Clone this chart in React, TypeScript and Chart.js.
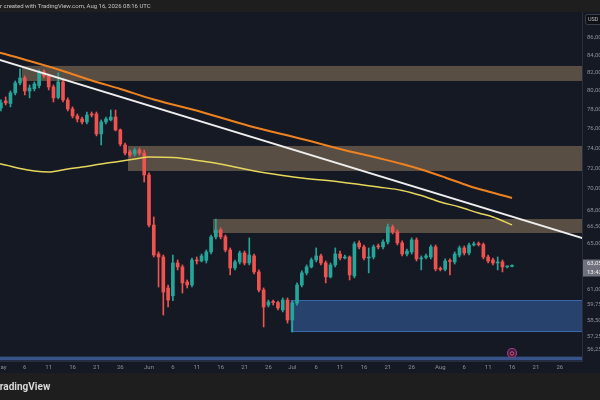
import React, { useEffect, useRef } from "react";
import { Chart, registerables } from "chart.js";

Chart.register(...registerables);

// daily candles, day 0 = May 1
const opens = [
  78.17, 78.92, 78.65, 79.79, 80.88, 81.43, 80.0, 80.25, 80.6, 82.11,
  81.66, 80.44, 79.3, 80.99, 79.03, 78.06, 77.32, 77.0, 76.69, 77.53,
  77.53, 75.45, 76.69, 76.9, 77.21, 75.86, 74.32, 73.61, 73.41, 73.81,
  73.51, 71.34, 66.63, 64.05, 63.79, 61.15, 60.5, 63.27, 62.93, 61.65,
  61.4, 63.53, 63.44, 63.5, 64.23, 65.56, 66.18, 65.56, 64.4, 62.84,
  63.36, 64.14, 63.27, 63.88, 62.5, 60.98, 59.74, 59.99, 59.95, 59.34,
  60.15, 58.53, 59.9, 61.4, 62.42, 62.93, 63.53, 63.88, 63.27, 62.08,
  63.1, 64.05, 63.7, 63.79, 62.16, 65.02, 64.67, 63.7, 63.79, 64.75,
  64.67, 65.11, 66.45, 66.0, 65.02, 64.05, 64.23, 65.29, 63.62, 63.75,
  63.79, 64.67, 62.76, 62.72, 63.44, 63.36, 63.96, 64.58, 64.14, 64.84,
  64.93, 64.88, 63.79, 63.53, 63.27, 63.36, 62.93, 62.98,
];
const highs = [
  79.03, 79.35, 80.0, 81.1, 82.44, 81.66, 80.66, 80.99, 82.33, 82.33,
  81.88, 80.66, 82.0, 81.21, 79.25, 78.28, 77.53, 77.21, 77.74, 77.74,
  77.74, 76.9, 77.21, 77.95, 77.95, 75.96, 74.52, 73.81, 74.01, 74.01,
  73.81, 71.54, 67.37, 64.23, 63.96, 61.4, 63.96, 63.53, 63.1, 61.82,
  63.7, 63.79, 64.05, 64.4, 65.73, 67.18, 66.36, 65.73, 64.58, 63.53,
  64.31, 64.31, 65.47, 64.05, 62.67, 61.15, 60.15, 60.15, 60.07, 60.32,
  60.32, 60.07, 61.57, 62.59, 63.1, 63.7, 64.58, 64.05, 63.44, 63.27,
  64.58, 64.31, 63.96, 63.88, 65.11, 65.2, 64.84, 64.58, 64.84, 64.93,
  65.29, 66.72, 66.63, 66.18, 65.2, 64.49, 65.47, 65.47, 63.88, 64.05,
  64.84, 64.84, 62.93, 63.62, 63.62, 64.23, 64.75, 64.75, 65.02, 65.11,
  65.11, 65.02, 63.96, 63.7, 63.79, 63.53, 63.01, 63.1,
];
const lows = [
  77.85, 78.49, 78.28, 79.57, 80.66, 79.57, 79.25, 80.0, 80.33, 81.43,
  80.11, 78.81, 79.14, 78.81, 77.85, 77.11, 76.69, 76.48, 76.48, 77.21,
  75.24, 74.32, 76.48, 76.8, 75.76, 74.22, 73.31, 73.11, 73.21, 73.31,
  70.66, 66.45, 63.79, 61.23, 58.93, 59.58, 60.1, 62.67, 60.73, 61.15,
  61.23, 63.18, 63.36, 63.27, 64.05, 65.38, 65.38, 64.23, 62.25, 62.67,
  63.18, 63.1, 63.1, 62.33, 60.81, 57.98, 59.58, 59.74, 59.34, 59.18,
  58.29, 57.58, 59.74, 61.23, 62.25, 62.84, 63.36, 63.1, 61.57, 61.99,
  62.93, 63.53, 63.62, 61.82, 61.99, 64.49, 63.53, 62.42, 63.62, 64.49,
  64.49, 64.93, 65.82, 64.84, 63.88, 63.88, 64.05, 63.44, 62.67, 63.62,
  63.62, 62.59, 62.59, 62.59, 62.25, 63.18, 63.79, 63.96, 63.96, 64.75,
  64.75, 63.62, 63.27, 63.1, 62.67, 62.5, 62.84, 62.93,
];
const closes = [
  78.71, 78.71, 79.79, 80.88, 81.43, 80.0, 80.33, 80.77, 82.11, 81.66,
  80.44, 79.25, 80.99, 79.03, 78.06, 77.32, 77.0, 76.69, 77.42, 77.42,
  75.45, 76.69, 77.0, 77.21, 75.86, 74.42, 73.51, 73.31, 73.81, 73.51,
  71.34, 66.63, 63.96, 63.79, 60.81, 60.15, 63.27, 62.93, 61.57, 61.4,
  63.53, 63.44, 63.88, 64.23, 65.56, 66.18, 65.56, 64.4, 62.84, 63.36,
  64.14, 63.27, 63.96, 62.5, 60.98, 59.58, 59.99, 59.95, 59.5, 60.15,
  58.53, 59.9, 61.4, 62.42, 62.93, 63.53, 63.88, 63.27, 62.08, 63.1,
  64.05, 63.7, 63.79, 62.25, 64.93, 64.67, 63.7, 63.75, 64.67, 64.67,
  65.11, 66.45, 66.0, 65.02, 64.05, 64.31, 65.29, 63.62, 63.7, 63.88,
  64.67, 62.76, 62.72, 63.44, 63.4, 64.05, 64.58, 64.14, 64.84, 64.93,
  64.88, 63.79, 63.44, 63.27, 63.36, 62.93, 62.98, 63.05,
];

// moving averages (orange slow, yellow faster)
const orangeDays = [-2, 0, 6, 12, 19, 25, 32, 42, 52, 63, 71, 79, 84, 88, 93, 98, 102, 107];
const orangeValues = [
  84.49, 84.26, 83.34, 82.38, 81.16, 80.22, 79.08, 77.74, 76.27, 74.93,
  73.92, 73.01, 72.42, 71.88, 71.1, 70.28, 69.75, 69.14,
];
const yellowDays = [
  -2, 0, 4, 7, 10, 14, 17, 21, 24, 28, 31, 36, 42, 47, 52, 57, 63, 71, 79,
  84, 88, 92, 96, 100, 103, 107,
];
const yellowValues = [
  72.51, 72.42, 71.97, 71.73, 71.63, 71.93, 72.12, 72.42, 72.62, 72.91,
  73.11, 73.06, 72.71, 72.32, 71.83, 71.44, 71.05, 70.66, 70.18, 69.85,
  69.37, 68.76, 68.29, 67.73, 67.37, 66.64,
];

// descending trendline
const trendDays = [-2, 124];
const trendValues = [83.76, 65.15];

// zones: start day (all run to the right edge), low, high
const zoneStart = [4.4, 26.6, 44.4, 60.7, -5];
const zoneLow = [81.1, 71.73, 65.91, 57.58, 55.4];
const zoneHigh = [82.78, 74.22, 67.18, 60.15, 55.68];

const xTickDays = [0, 5, 10, 15, 20, 25, 31, 36, 41, 46, 51, 56, 61, 66, 71, 76, 81, 86, 92, 97, 102, 107, 112, 117];
const xTickLabels = ["May", "6", "11", "16", "21", "26", "Jun", "6", "11", "16", "21", "26", "Jul", "6", "11", "16", "21", "26", "Aug", "6", "11", "16", "21", "26"];
const yTicks = [86, 84, 82, 80, 78, 76, 74, 72, 70, 68, 66.5, 65, 61, 59.75, 58.5, 57.25, 56.25];

const UP = "#26a69a";
const DOWN = "#ef5350";
const BG = "#151924";
const FRAME = "#1e1e1e";
const TEXT = "#8c8f98";
const FONT = "Roboto";

const fmt = (v: number) => v.toFixed(2).replace(".", ",");

const decor = {
  id: "decor",
  beforeDraw(chart: any) {
    const { ctx, width, height, scales } = chart;
    ctx.save();
    ctx.fillStyle = BG;
    ctx.fillRect(0, 0, width, height);
    ctx.fillStyle = FRAME;
    ctx.fillRect(0, 0, width, chart.chartArea.top);
    ctx.fillRect(0, scales.x.bottom, width, height - scales.x.bottom);
    ctx.restore();
  },
  beforeDatasetsDraw(chart: any) {
    const { ctx, chartArea: a, scales } = chart;
    const fills = [
      "rgba(200,165,120,0.38)",
      "rgba(200,165,120,0.38)",
      "rgba(200,165,120,0.38)",
      "rgba(55,100,170,0.55)",
      "rgba(70,110,180,0.7)",
    ];
    ctx.save();
    ctx.beginPath();
    ctx.rect(a.left, a.top, a.right - a.left, a.bottom - a.top);
    ctx.clip();
    zoneStart.forEach((s, i) => {
      const x0 = scales.x.getPixelForValue(s);
      const x1 = scales.x.getPixelForValue(130);
      const y0 = scales.y.getPixelForValue(zoneHigh[i]);
      const y1 = scales.y.getPixelForValue(zoneLow[i]);
      ctx.fillStyle = fills[i];
      ctx.fillRect(x0, y0, x1 - x0, y1 - y0);
      if (i === 3) {
        ctx.strokeStyle = "rgba(80,130,210,0.6)";
        ctx.lineWidth = 1;
        ctx.strokeRect(x0 + 0.5, y0 + 0.5, x1 - x0, y1 - y0 - 1);
      }
    });
    ctx.restore();
  },
  afterDraw(chart: any) {
    const { ctx, width, height, scales, chartArea: a } = chart;
    ctx.save();
    // header
    ctx.font = `6px ${FONT}`;
    ctx.fillStyle = "#c4c4c4";
    ctx.textBaseline = "middle";
    ctx.textAlign = "left";
    ctx.fillText("r created with TradingView.com, Aug 16, 2026 08:16 UTC", 0, a.top / 2);
    // footer logo text
    ctx.font = `bold 10px ${FONT}`;
    ctx.fillStyle = "#d8d8d8";
    ctx.fillText("TradingView", -6, (scales.x.bottom + height) / 2 + 1);
    // currency tag
    ctx.fillStyle = "#0e1016";
    ctx.strokeStyle = "#3a3e4a";
    ctx.lineWidth = 1;
    ctx.beginPath();
    ctx.roundRect(a.right + 3.5, a.top + 2.5, 20, 10, 2);
    ctx.fill();
    ctx.stroke();
    ctx.font = `5.5px ${FONT}`;
    ctx.fillStyle = "#b8bbc4";
    ctx.fillText("USD", a.right + 6, a.top + 7.5);
    // last price label
    const last = closes[closes.length - 1];
    const yl = scales.y.getPixelForValue(last);
    ctx.fillStyle = "#6f727c";
    ctx.fillRect(a.right + 1, yl - 6, width - a.right, 17);
    ctx.fillStyle = "#f0f0f0";
    ctx.font = `6px ${FONT}`;
    ctx.fillText(fmt(last), a.right + 5, yl - 2);
    ctx.fillText("13:43", a.right + 5, yl + 6.5);
    // event marker
    const xe = scales.x.getPixelForValue(opens.length - 1);
    ctx.beginPath();
    ctx.arc(xe, a.bottom - 8, 4.5, 0, Math.PI * 2);
    ctx.fillStyle = "#3a2040";
    ctx.fill();
    ctx.strokeStyle = "#a8398e";
    ctx.lineWidth = 1.2;
    ctx.stroke();
    ctx.beginPath();
    ctx.arc(xe, a.bottom - 7.5, 1.8, 0, Math.PI * 2);
    ctx.strokeStyle = "#e0506a";
    ctx.lineWidth = 1;
    ctx.stroke();
    ctx.restore();
  },
};

export default function App() {
  const canvasRef = useRef<HTMLCanvasElement | null>(null);

  useEffect(() => {
    if (!canvasRef.current) return;
    const days = opens.map((_, i) => i);
    const colors = days.map((d) => (closes[d] >= opens[d] ? UP : DOWN));

    const chart = new Chart(canvasRef.current, {
      type: "bar",
      data: {
        datasets: [
          {
            type: "line",
            label: "Trend",
            data: trendDays.map((d, i) => ({ x: d, y: trendValues[i] })),
            borderColor: "#eeeeee",
            borderWidth: 2,
            pointRadius: 0,
            order: 0,
          },
          {
            type: "line",
            label: "MA slow",
            data: orangeDays.map((d, i) => ({ x: d, y: orangeValues[i] })),
            borderColor: "#ee8220",
            borderWidth: 2,
            pointRadius: 0,
            cubicInterpolationMode: "monotone",
            order: 0,
          },
          {
            type: "line",
            label: "MA fast",
            data: yellowDays.map((d, i) => ({ x: d, y: yellowValues[i] })),
            borderColor: "#e6d65c",
            borderWidth: 1.5,
            pointRadius: 0,
            cubicInterpolationMode: "monotone",
            order: 0,
          },
          {
            label: "Body",
            data: days.map((d) => ({ x: d, y: [opens[d], closes[d]] })) as any,
            backgroundColor: colors,
            barThickness: 3,
            minBarLength: 1,
            grouped: false,
            order: 1,
          },
          {
            label: "Wick",
            data: days.map((d) => ({ x: d, y: [lows[d], highs[d]] })) as any,
            backgroundColor: colors,
            barThickness: 1,
            grouped: false,
            order: 2,
          },
        ],
      },
      options: {
        animation: false,
        responsive: true,
        maintainAspectRatio: false,
        layout: {
          autoPadding: false,
          padding: { top: 12, bottom: 27, left: 0, right: 0 },
        },
        plugins: {
          legend: { display: false },
          tooltip: { enabled: false },
        },
        scales: {
          x: {
            type: "linear",
            min: -0.19,
            max: 121.65,
            offset: false,
            grid: { display: false, drawTicks: false },
            border: { display: true, color: "#2a2e39" },
            afterBuildTicks: (s: any) => {
              s.ticks = xTickDays.map((v) => ({ value: v }));
            },
            afterFit: (s: any) => {
              s.height = 12;
              s.paddingLeft = 0;
              s.paddingRight = 0;
            },
            ticks: {
              autoSkip: false,
              maxRotation: 0,
              padding: 3,
              color: TEXT,
              font: { family: FONT, size: 6 },
              callback: (_v: any, i: number) => xTickLabels[i],
            },
          },
          y: {
            type: "logarithmic",
            position: "right",
            min: 55.35,
            max: 89.1,
            grid: { display: false, drawTicks: false },
            border: { display: true, color: "#2a2e39" },
            afterBuildTicks: (s: any) => {
              s.ticks = yTicks.map((v) => ({ value: v }));
            },
            afterFit: (s: any) => {
              s.width = 18;
              s.paddingTop = 0;
              s.paddingBottom = 0;
            },
            ticks: {
              autoSkip: false,
              padding: 5,
              color: TEXT,
              font: { family: FONT, size: 6 },
              callback: (v: any) => fmt(Number(v)),
            },
          },
        },
      },
      plugins: [decor],
    });

    return () => chart.destroy();
  }, []);

  return (
    <div style={{ position: "fixed", left: 0, top: 0, width: 600, height: 400 }}>
      <canvas ref={canvasRef} />
    </div>
  );
}
